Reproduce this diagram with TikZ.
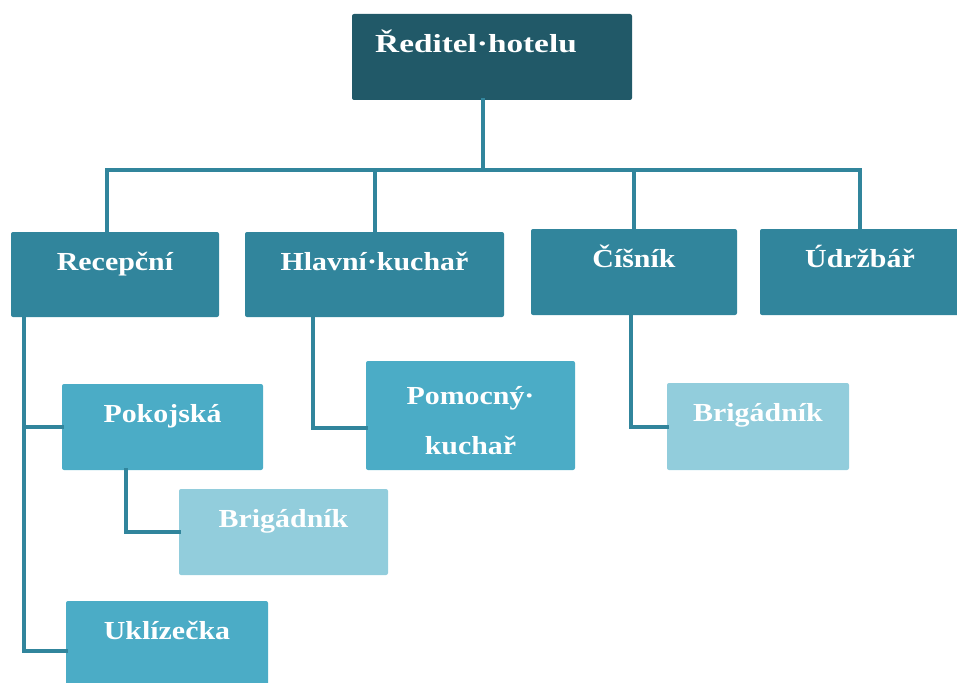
\documentclass[tikz,border=0pt]{standalone}
\usepackage{fontspec}
\newfontfamily\boxfont{Liberation Serif}[FakeStretch=1.15]
\newfontfamily\boxfontwide{Liberation Serif}[FakeStretch=1.28]
\definecolor{cdark}{HTML}{215968}
\definecolor{cmid}{HTML}{31859C}
\definecolor{clight}{HTML}{4BACC6}
\definecolor{cpale}{HTML}{92CDDC}
\definecolor{cline}{HTML}{31859C}
\tikzset{
  box/.style={rectangle, rounded corners=2pt, inner sep=0pt, draw=none},
  lvl0/.style={box, fill=cdark},
  lvl1/.style={box, fill=cmid},
  lvl2/.style={box, fill=clight},
  lvl3/.style={box, fill=cpale},
  btext/.style={inner sep=0pt, text=white, font=\boxfont\bfseries\fontsize{26}{50}\selectfont, align=center},
  conn/.style={draw=cline, line width=4pt, line cap=rect, line join=miter},
}
\begin{document}
\begin{tikzpicture}[x=1pt,y=-1pt]
\useasboundingbox (0,0) rectangle (957,682);
\clip (0,0) rectangle (957,682);
% boxes
\node[lvl0, minimum width=280pt, minimum height=86pt] (dir) at (492,57) {};
\node[lvl1, minimum width=208pt, minimum height=85pt] (rec) at (115,274.5) {};
\node[lvl1, minimum width=259pt, minimum height=85pt] (hk) at (374.5,274.5) {};
\node[lvl1, minimum width=206pt, minimum height=86pt] (cis) at (634,272) {};
\node[lvl1, minimum width=200pt, minimum height=86pt] (udr) at (860,272) {};
\node[lvl2, minimum width=201pt, minimum height=86pt] (pok) at (162.5,427) {};
\node[lvl3, minimum width=209pt, minimum height=86pt] (brig1) at (283.5,532) {};
\node[lvl2, minimum width=202pt, minimum height=88pt] (ukl) at (167,645) {};
\node[lvl2, minimum width=209pt, minimum height=109pt] (pom) at (470.5,415.5) {};
\node[lvl3, minimum width=182pt, minimum height=87pt] (brig2) at (758,426.5) {};
% texts
\node[btext, anchor=base, font=\boxfontwide\bfseries\fontsize{26}{50}\selectfont] (tdir) at ([xshift=-16pt,yshift=-38.5pt]dir.north) {Ředitel·hotelu};
\node[btext, anchor=base] (trec) at ([yshift=-38.5pt]rec.north) {Recepční};
\node[btext, anchor=base] (thk) at ([yshift=-38.5pt]hk.north) {Hlavní·kuchař};
\node[btext, anchor=base] (tcis) at ([yshift=-38.5pt]cis.north) {Číšník};
\node[btext, anchor=base] (tudr) at ([yshift=-38.5pt]udr.north) {Údržbář};
\node[btext, anchor=base] (tpok) at ([yshift=-38.5pt]pok.north) {Pokojská};
\node[btext, anchor=base] (tbrig1) at ([yshift=-38.5pt]brig1.north) {Brigádník};
\node[btext, anchor=base] (tukl) at ([yshift=-38.5pt]ukl.north) {Uklízečka};
\node[btext, anchor=base] (tbrig2) at ([yshift=-38.5pt]brig2.north) {Brigádník};
\node[btext, anchor=north] (tpom) at ([yshift=-25pt]pom.north) {Pomocný·\\kuchař};
% connectors
\coordinate (bus) at (483,170);
\coordinate (dirdrop) at (483,100);
\coordinate (recup) at (107,232);
\coordinate (recdn) at (24,317);
\coordinate (hkdn) at (313,317);
\coordinate (cisdn) at (631,315);
\coordinate (pokdn) at (126,470);
\draw[conn] (dirdrop) -- (bus);
\draw[conn] (recup) |- (bus) -| (udr.north);
\draw[conn] (hk.north |- bus) -- (hk.north);
\draw[conn] (cis.north |- bus) -- (cis.north);
\draw[conn] (recdn) |- (pok.west);
\draw[conn] (recdn) |- ([yshift=-6pt]ukl.west);
\draw[conn] (pokdn) |- (brig1.west);
\draw[conn] (hkdn) |- ([yshift=-12.5pt]pom.west);
\draw[conn] (cisdn) |- (brig2.west);
\end{tikzpicture}
\end{document}
